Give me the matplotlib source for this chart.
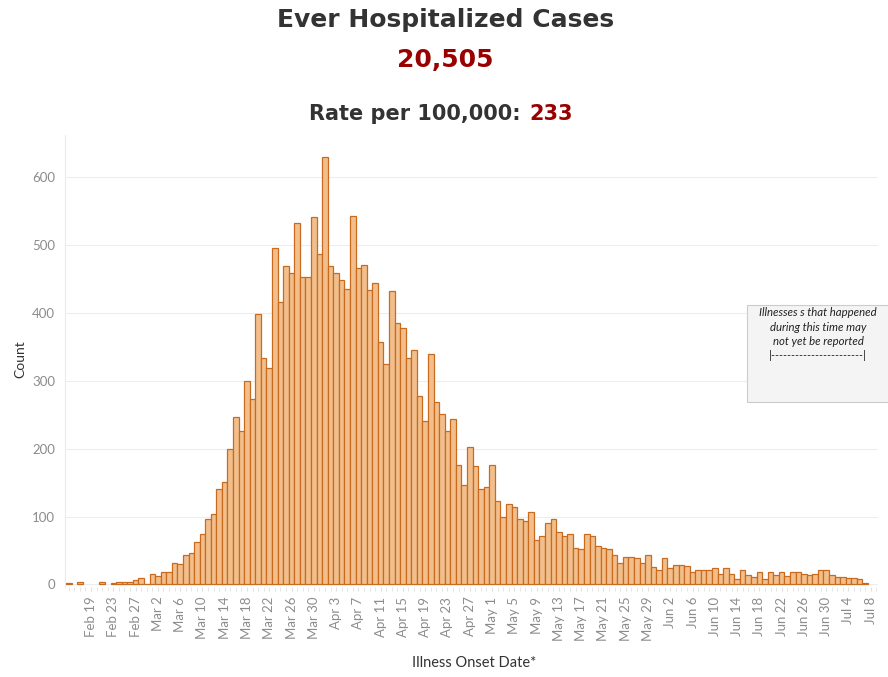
"""
Ever Hospitalized Cases: daily counts by illness onset date, drawn as a bar chart.
"""
import matplotlib

matplotlib.use("Agg")
import matplotlib.pyplot as plt
import pandas as pd
from matplotlib.patches import Rectangle
from matplotlib.ticker import MultipleLocator

# ---- data ----
START_DATE = "2020-02-15"
DAILY_COUNTS = [
    2, 0, 3, 0, 0, 0, 3, 0, 2, 4, 3, 4, 6, 9, 1,              # Feb 15 - Feb 29
    15, 12, 18, 18, 32, 30, 43, 46, 62, 75, 96, 103, 141, 151,  # Mar 1 - Mar 14
    199, 247, 226, 299, 273, 398, 333, 318, 495, 416, 469,      # Mar 15 - Mar 25
    458, 532, 453, 452, 540, 486,                               # Mar 26 - Mar 31
    629, 469, 458, 448, 435, 542, 466, 470, 433, 444, 357,      # Apr 1 - Apr 11
    325, 432, 384, 377, 333, 345, 277, 240, 339, 268, 251,      # Apr 12 - Apr 22
    226, 244, 176, 146, 203, 175, 141, 144,                     # Apr 23 - Apr 30
    176, 123, 100, 118, 114, 97, 93, 106, 65, 72, 91, 97,       # May 1 - May 12
    77, 72, 74, 54, 52, 75, 71, 57, 53, 52, 43, 32, 40, 41,     # May 13 - May 26
    39, 31, 43, 26, 21,                                         # May 27 - May 31
    39, 24, 28, 28, 27, 19, 21, 21, 21, 24, 15, 24, 16, 8,      # Jun 1 - Jun 14
    22, 14, 11, 19, 8, 18, 14, 18, 12, 18, 18, 16, 14, 15,      # Jun 15 - Jun 28
    21, 21,                                                     # Jun 29 - Jun 30
    14, 11, 11, 9, 9, 8, 2, 0,                                  # Jul 1 - Jul 8
]
TOTAL_CASES = "20,505"
RATE_PER_100K = "233"
Y_TICKS = [0, 100, 200, 300, 400, 500, 600]
FIRST_LABEL = 4      # Feb 19
LABEL_EVERY = 4
NOTE_LINES = [
    "Illnesses s that happened",
    "during this time may",
    "not yet be reported",
    "|-----------------------|",
]

BAR_FILL = "#f2bf8c"
BAR_EDGE = "#c96b1e"
TITLE_GRAY = "#333333"
DARK_RED = "#990000"
TICK_GRAY = "#8c8c8c"

W, H = 888, 677


def fx(px):
    return px / W


def fy(py):
    return 1 - py / H


def two_tone_line(fig, y, parts, center_px, gap_px, **kw):
    """Draw several coloured pieces of text on one line, centred as a whole."""
    r = fig.canvas.get_renderer()
    texts = [fig.text(0, y, s, color=c, va="baseline", ha="left", **kw) for s, c in parts]
    widths = [t.get_window_extent(r).width for t in texts]
    total = sum(widths) + gap_px * (len(texts) - 1)
    x = center_px - total / 2
    for t, w in zip(texts, widths):
        t.set_x(fx(x))
        x += w + gap_px


def main() -> None:
    plt.rcParams["font.family"] = ["DejaVu Sans"]
    dates = pd.date_range(START_DATE, periods=len(DAILY_COUNTS), freq="D")
    xs = [i for i, v in enumerate(DAILY_COUNTS) if v > 0]
    ys = [DAILY_COUNTS[i] for i in xs]

    fig = plt.figure(figsize=(W / 100, H / 100), dpi=100)
    ax = fig.add_axes([fx(64.7), fy(587), fx(878) - fx(64.7), fy(135) - fy(587)])

    ax.bar(xs, ys, width=1.0, color=BAR_FILL, edgecolor=BAR_EDGE, linewidth=0.9, zorder=3)

    ax.set_xlim(-0.73, 145.3)
    ax.set_ylim(-3.7, 661.3)

    # y axis
    ax.set_yticks(Y_TICKS)
    ax.set_yticklabels([str(v) for v in Y_TICKS], family="Lato", fontsize=9.5, color=TICK_GRAY)
    ax.tick_params(axis="y", length=0, pad=7)
    ax.grid(axis="y", color="#ededed", linewidth=0.8, zorder=0)

    # x axis: a label every 4 days, a faint tick every day
    major = list(range(FIRST_LABEL, len(DAILY_COUNTS), LABEL_EVERY))
    ax.set_xticks(major)
    ax.set_xticklabels([f"{dates[i]:%b} {dates[i].day}" for i in major],
                       rotation=90, family="Lato", fontsize=9.5, color=TICK_GRAY)
    ax.xaxis.set_minor_locator(MultipleLocator(1))
    ax.tick_params(axis="x", which="both", length=3, color="#e0e0e0", pad=4)

    for side in ("top", "right", "bottom"):
        ax.spines[side].set_visible(False)
    ax.spines["left"].set_color("#ebebeb")

    # titles
    fig.text(fx(445.5), fy(26.7), "Ever Hospitalized Cases", ha="center", va="baseline",
             fontsize=18, fontweight="bold", color=TITLE_GRAY)
    fig.text(fx(445), fy(66.7), TOTAL_CASES, ha="center", va="baseline",
             fontsize=18, fontweight="bold", color=DARK_RED)
    two_tone_line(fig, fy(120), [("Rate per 100,000:", TITLE_GRAY), (RATE_PER_100K, DARK_RED)],
                  center_px=441, gap_px=8, fontsize=15, fontweight="bold")

    # axis titles
    fig.text(fx(20), fy(359), "Count", rotation=90, ha="center", va="center",
             family="Lato", fontsize=10, color="#333333")
    fig.text(fx(474), fy(663), "Illness Onset Date*", ha="center", va="center",
             family="Lato", fontsize=10.5, color="#333333")

    # note box on the right
    fig.patches.append(Rectangle((fx(746.7), fy(401.7)), 0.2, fy(305) - fy(401.7),
                                 transform=fig.transFigure, facecolor="#f4f4f4",
                                 edgecolor="#cccccc", linewidth=0.8, zorder=5))
    for k, line in enumerate(NOTE_LINES):
        fig.text(fx(818), fy(313 + 14.3 * k), line, ha="center", va="center",
                 family="Lato", style="italic", fontsize=8.2, color="#222222", zorder=6)

    fig.savefig("out.png", dpi=100)
    plt.close(fig)


if __name__ == "__main__":
    main()
